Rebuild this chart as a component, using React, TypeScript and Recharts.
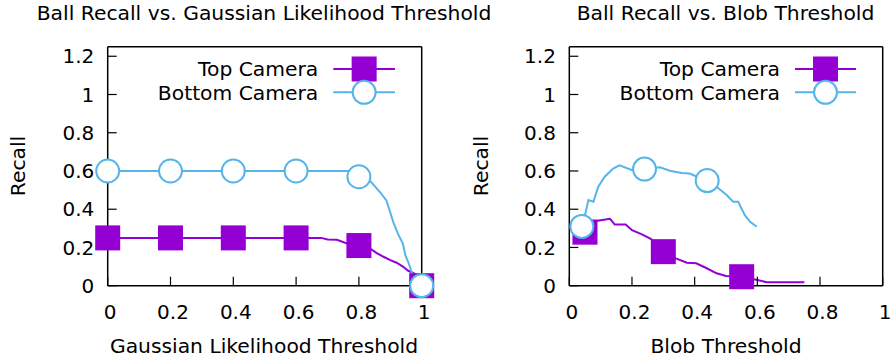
import React from 'react';
import { ComposedChart, Line, XAxis, YAxis } from 'recharts';

const SERIES_NAMES = ['Top Camera', 'Bottom Camera'];
const TITLES = ['Ball Recall vs. Gaussian Likelihood Threshold', 'Ball Recall vs. Blob Threshold'];
const X_LABELS = ['Gaussian Likelihood Threshold', 'Blob Threshold'];
const Y_LABEL = 'Recall';
const X_TICKS = [0, 0.2, 0.4, 0.6, 0.8, 1];
const Y_TICKS = [0, 0.2, 0.4, 0.6, 0.8, 1, 1.2];

// Left panel: Gaussian likelihood threshold
const gaussTopX = [0, 0.2, 0.4, 0.6, 0.68, 0.7, 0.73, 0.76, 0.8, 0.835, 0.857, 0.88, 0.9, 0.92, 0.94, 0.957, 0.975, 1];
const gaussTopY = [0.25, 0.25, 0.25, 0.25, 0.25, 0.242, 0.24, 0.222, 0.21, 0.195, 0.17, 0.15, 0.134, 0.12, 0.1, 0.078, 0.065, 0];
const gaussTopMarkX = [0, 0.2, 0.4, 0.6, 0.8, 1];
const gaussTopMarkY = [0.25, 0.25, 0.25, 0.25, 0.21, 0];

const gaussBottomX = [0, 0.2, 0.4, 0.6, 0.78, 0.8, 0.835, 0.867, 0.888, 0.91, 0.925, 0.94, 0.948, 0.958, 0.968, 0.98, 1];
const gaussBottomY = [0.6, 0.6, 0.6, 0.6, 0.6, 0.57, 0.55, 0.49, 0.445, 0.33, 0.27, 0.22, 0.16, 0.12, 0.07, 0.03, 0];
const gaussBottomMarkX = [0, 0.2, 0.4, 0.6, 0.8, 1];
const gaussBottomMarkY = [0.6, 0.6, 0.6, 0.6, 0.57, 0];

// Right panel: blob threshold
const blobTopX = [0.05, 0.07, 0.09, 0.13, 0.145, 0.18, 0.2, 0.23, 0.26, 0.3, 0.34, 0.375, 0.405, 0.44, 0.47, 0.5, 0.55, 0.6, 0.63, 0.75];
const blobTopY = [0.28, 0.34, 0.34, 0.35, 0.32, 0.32, 0.29, 0.27, 0.245, 0.178, 0.143, 0.12, 0.117, 0.09, 0.065, 0.051, 0.047, 0.03, 0.018, 0.018];
const blobTopMarkX = [0.05, 0.3, 0.55];
const blobTopMarkY = [0.28, 0.178, 0.047];

const blobBottomX = [0.04, 0.05, 0.061, 0.077, 0.092, 0.113, 0.14, 0.16, 0.199, 0.24, 0.289, 0.321, 0.358, 0.384, 0.438, 0.47, 0.502, 0.523, 0.539, 0.56, 0.577, 0.598];
const blobBottomY = [0.31, 0.369, 0.448, 0.439, 0.517, 0.57, 0.613, 0.63, 0.605, 0.61, 0.619, 0.601, 0.59, 0.587, 0.549, 0.517, 0.474, 0.439, 0.439, 0.369, 0.334, 0.308];
const blobBottomMarkX = [0.04, 0.24, 0.44];
const blobBottomMarkY = [0.31, 0.61, 0.55];

const PURPLE = '#9400d3';
const BLUE = '#56b4e9';
const FONT = "'DejaVu Sans', sans-serif";
const FS = 20.3;
const TICK_FS = 20;

const zip = (xs: number[], ys: number[]) => xs.map((x, i) => ({ x, y: ys[i] }));

const squareDot = (color: string) => (props: any) => {
  const { cx, cy, index } = props;
  if (cx == null || cy == null) return <g key={`sq${index}`} />;
  return <rect key={`sq${index}`} x={cx - 12.5} y={cy - 12.5} width={25} height={25} fill={color} />;
};
const circleDot = (color: string) => (props: any) => {
  const { cx, cy, index } = props;
  if (cx == null || cy == null) return <g key={`ci${index}`} />;
  return <circle key={`ci${index}`} cx={cx} cy={cy} r={11.5} fill="#fff" stroke={color} strokeWidth={2} />;
};

type PanelProps = {
  left: number;
  width: number;
  plotLeft: number;
  plotRight: number;
  top: any[];
  topMarks: any[];
  bottom: any[];
  bottomMarks: any[];
};

const PLOT_TOP = 46.7;
const PLOT_BOTTOM = 285.7;
const AX = 1; // axis box thickness

function Panel({ left, width, plotLeft, plotRight, top, topMarks, bottom, bottomMarks }: PanelProps) {
  const tickStyle = { fill: '#000', fontSize: TICK_FS, fontFamily: FONT };
  const axisLine = { stroke: '#000', strokeWidth: 1.5 };
  const tickLine = { stroke: '#000', strokeWidth: 1.2 };
  return (
    <div style={{ position: 'absolute', left, top: 0 }}>
      <ComposedChart
        width={width}
        height={360}
        margin={{
          top: PLOT_TOP - AX,
          bottom: 360 - PLOT_BOTTOM - AX,
          left: plotLeft - left - AX,
          right: left + width - plotRight - AX,
        }}
      >
        <XAxis xAxisId="b" type="number" dataKey="x" domain={[0, 1]} ticks={X_TICKS} interval={0}
          height={AX} tickSize={-9} tickMargin={27.6} tick={{ ...tickStyle, dx: 2.5 }} axisLine={axisLine} tickLine={tickLine} />
        <XAxis xAxisId="t" orientation="top" type="number" dataKey="x" domain={[0, 1]} ticks={X_TICKS} interval={0}
          height={AX} tickSize={-9} tick={false} axisLine={axisLine} tickLine={tickLine} />
        <YAxis yAxisId="l" type="number" domain={[0, 1.25]} ticks={Y_TICKS} interval={0}
          width={AX} tickSize={-9} tickMargin={22.4} tick={tickStyle} axisLine={axisLine} tickLine={tickLine} />
        <YAxis yAxisId="r" orientation="right" type="number" domain={[0, 1.25]} ticks={Y_TICKS} interval={0}
          width={AX} tickSize={-9} tick={false} axisLine={axisLine} tickLine={tickLine} />
        <Line xAxisId="b" yAxisId="l" data={top} dataKey="y" type="linear" stroke={PURPLE} strokeWidth={2}
          dot={false} activeDot={false} isAnimationActive={false} />
        <Line xAxisId="b" yAxisId="l" data={topMarks} dataKey="y" type="linear" stroke="none"
          dot={squareDot(PURPLE)} activeDot={false} isAnimationActive={false} />
        <Line xAxisId="b" yAxisId="l" data={bottom} dataKey="y" type="linear" stroke={BLUE} strokeWidth={2}
          dot={false} activeDot={false} isAnimationActive={false} />
        <Line xAxisId="b" yAxisId="l" data={bottomMarks} dataKey="y" type="linear" stroke="none"
          dot={circleDot(BLUE)} activeDot={false} isAnimationActive={false} />
      </ComposedChart>
    </div>
  );
}

function LegendBlock({ textRight, lineX1, lineX2 }: { textRight: number; lineX1: number; lineX2: number }) {
  const mx = (lineX1 + lineX2) / 2;
  const rows = [
    { y: 69, base: 76, color: PURPLE, kind: 'square' },
    { y: 92.3, base: 100, color: BLUE, kind: 'circle' },
  ];
  return (
    <g>
      {rows.map((r, i) => (
        <g key={i}>
          <text x={textRight} y={r.base} textAnchor="end" fontSize={FS} fontFamily={FONT} fill="#000">
            {SERIES_NAMES[i]}
          </text>
          <line x1={lineX1} x2={lineX2} y1={r.y} y2={r.y} stroke={r.color} strokeWidth={2} />
          {r.kind === 'square' ? (
            <rect x={mx - 12.5} y={r.y - 12.5} width={25} height={25} fill={r.color} />
          ) : (
            <circle cx={mx} cy={r.y} r={11.5} fill="#fff" stroke={r.color} strokeWidth={2} />
          )}
        </g>
      ))}
    </g>
  );
}

export default function App() {
  return (
    <div style={{ position: 'absolute', left: 0, top: 0, width: 891, height: 360, background: '#fff', overflow: 'hidden' }}>
      <Panel left={0} width={445} plotLeft={107.7} plotRight={421.7}
        top={zip(gaussTopX, gaussTopY)} topMarks={zip(gaussTopMarkX, gaussTopMarkY)}
        bottom={zip(gaussBottomX, gaussBottomY)} bottomMarks={zip(gaussBottomMarkX, gaussBottomMarkY)} />
      <Panel left={445} width={446} plotLeft={569.3} plotRight={882.7}
        top={zip(blobTopX, blobTopY)} topMarks={zip(blobTopMarkX, blobTopMarkY)}
        bottom={zip(blobBottomX, blobBottomY)} bottomMarks={zip(blobBottomMarkX, blobBottomMarkY)} />
      <svg width={891} height={360} style={{ position: 'absolute', left: 0, top: 0, pointerEvents: 'none' }}>
        <text x={264} y={19.5} textAnchor="middle" fontSize={FS} fontFamily={FONT} fill="#000">{TITLES[0]}</text>
        <text x={725.5} y={19.5} textAnchor="middle" fontSize={FS} fontFamily={FONT} fill="#000">{TITLES[1]}</text>
        <text transform="translate(25,166) rotate(-90)" textAnchor="middle" fontSize={FS} fontFamily={FONT} fill="#000">{Y_LABEL}</text>
        <text transform="translate(488,166) rotate(-90)" textAnchor="middle" fontSize={FS} fontFamily={FONT} fill="#000">{Y_LABEL}</text>
        <text x={264} y={352.5} textAnchor="middle" fontSize={FS} fontFamily={FONT} fill="#000">{X_LABELS[0]}</text>
        <text x={726} y={352.5} textAnchor="middle" fontSize={FS} fontFamily={FONT} fill="#000">{X_LABELS[1]}</text>
        <LegendBlock textRight={318.3} lineX1={333.3} lineX2={395} />
        <LegendBlock textRight={780} lineX1={795} lineX2={856} />
      </svg>
    </div>
  );
}
